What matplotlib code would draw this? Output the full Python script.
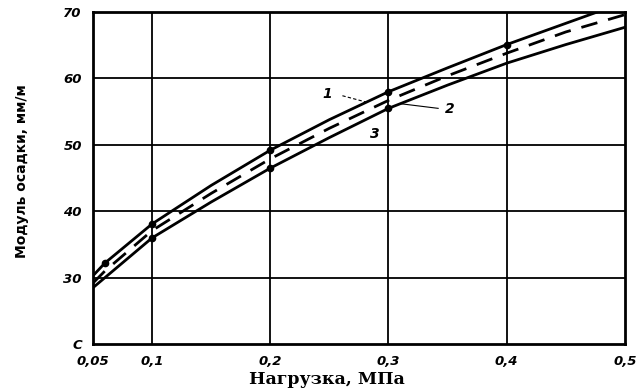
import matplotlib
matplotlib.use("Agg")
import matplotlib.pyplot as plt

# values (bottom band of the y axis is broken: 20 stands for "0")
load = [0.05, 0.06, 0.1, 0.15, 0.2, 0.25, 0.3, 0.35, 0.4, 0.45, 0.5]
curve1 = [30.3, 32.2, 38.1, 43.9, 49.2, 53.8, 58.0, 61.6, 65.1, 68.3, 71.5]
curve2 = [29.2, 31.0, 37.1, 42.7, 47.9, 52.5, 56.7, 60.4, 63.8, 67.0, 69.6]
curve3 = [28.5, 30.0, 36.0, 41.4, 46.5, 51.1, 55.5, 59.0, 62.3, 65.1, 67.7]

pts1_x = [0.06, 0.1, 0.2, 0.3, 0.4]
pts1_y = [32.2, 38.1, 49.2, 58.0, 65.1]
pts3_x = [0.1, 0.2, 0.3]
pts3_y = [36.0, 46.5, 55.5]

xticks = [0.05, 0.1, 0.2, 0.3, 0.4, 0.5]
xticklabels = ['0,05', '0,1', '0,2', '0,3', '0,4', '0,5']
yticks = [20, 30, 40, 50, 60, 70]
yticklabels = ['C', '30', '40', '50', '60', '70']

fig = plt.figure(figsize=(6.37, 3.88), dpi=100)
ax = fig.add_axes([0.146, 0.113, 0.835, 0.856])

for v in [0.1, 0.2, 0.3, 0.4]:
    ax.axvline(v, color='black', lw=1.3, zorder=1)
for v in [30, 40, 50, 60]:
    ax.axhline(v, color='black', lw=1.3, zorder=1)

ax.plot(load, curve1, color='black', lw=2.0, zorder=3)
ax.plot(load, curve2, color='black', lw=2.0, dashes=(6, 4), zorder=3)
ax.plot(load, curve3, color='black', lw=2.0, zorder=3)
ax.plot(pts1_x, pts1_y, 'o', color='black', ms=4.5, zorder=4)
ax.plot(pts3_x, pts3_y, 'o', color='black', ms=4.5, zorder=4)

# curve numbers with leader lines
ax.text(0.248, 57.7, '1', fontsize=10, fontweight='bold', fontstyle='italic', ha='center', va='center')
ax.plot([0.261, 0.282], [57.4, 56.4], color='black', lw=0.8, dashes=(3, 2))
ax.text(0.352, 55.4, '2', fontsize=10, fontweight='bold', fontstyle='italic', ha='center', va='center')
ax.plot([0.310, 0.342], [56.2, 55.5], color='black', lw=0.8)
ax.text(0.288, 51.6, '3', fontsize=10, fontweight='bold', fontstyle='italic', ha='center', va='center')

ax.set_xlim(0.05, 0.5)
ax.set_ylim(20, 70)
ax.set_xticks(xticks)
ax.set_xticklabels(xticklabels, fontsize=9.5, fontweight='bold', fontstyle='italic')
ax.set_yticks(yticks)
ax.set_yticklabels(yticklabels, fontsize=9.5, fontweight='bold', fontstyle='italic')
ax.tick_params(length=0, pad=8)
for s in ax.spines.values():
    s.set_linewidth(2.0)

ax.set_xlabel('Нагрузка, МПа', fontsize=12.5, fontweight='bold', family='DejaVu Serif')
ax.xaxis.set_label_coords(0.44, -0.08)
ax.set_ylabel('Модуль осадки, мм/м', fontsize=10, fontweight='bold')
ax.yaxis.set_label_coords(-0.12, 0.52)

fig.savefig('out.png', dpi=100)
